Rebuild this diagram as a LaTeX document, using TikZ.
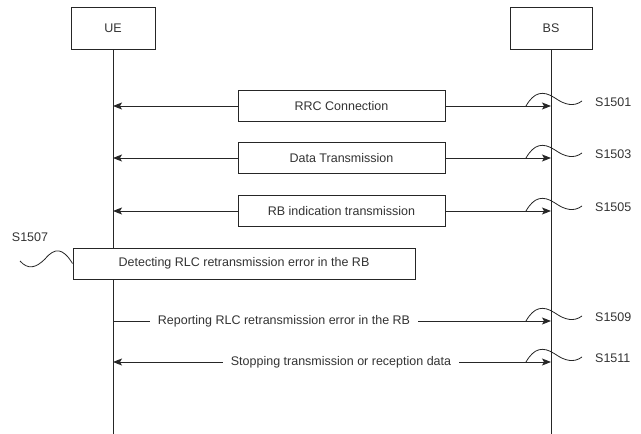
\documentclass[tikz,border=0pt]{standalone}
\usepackage{fontspec}
\setmainfont{Liberation Sans}
\usetikzlibrary{arrows.meta}

\begin{document}
\begin{tikzpicture}[x=1pt,y=-1pt,
  ln/.style={draw=black!85, line width=0.9pt},
  txt/.style={text=black!80, font=\fontsize{12.5}{14}\selectfont},
  actor/.style={ln, txt, fill=white, minimum width=84pt, minimum height=42pt, inner sep=0pt},
  msgbox/.style={ln, txt, fill=white, minimum width=207pt, minimum height=31pt, inner sep=0pt},
  lbl/.style={txt, fill=white, inner xsep=8pt, inner ysep=1pt},
  tip/.style={-{Stealth[length=9pt,width=7pt,inset=2pt]}},
  tips/.style={{Stealth[length=9pt,width=7pt,inset=2pt]}-{Stealth[length=9pt,width=7pt,inset=2pt]}},
  wave/.style={draw=black!85, line width=0.8pt},
  step label/.style={txt, anchor=west, inner sep=0pt}
]
\useasboundingbox (0,0) rectangle (641,434);

% actors and lifelines
\node[actor] (ue) at (113,28) {UE};
\node[actor, minimum width=82pt] (bs) at (551,28) {BS};
\coordinate (ueEnd) at (113,434);
\coordinate (bsEnd) at (551,434);
\draw[ln] (ue.south) -- (ueEnd);
\draw[ln] (bs.south) -- (bsEnd);

% anchor points on the lifelines
\foreach \n/\y in {a/106, b/158, c/211, d/321, e/362} {
  \coordinate (ue\n) at (113,\y);
  \coordinate (bs\n) at (551,\y);
}

% boxed messages
\node[msgbox] (m1) at (341.5,106) {RRC Connection};
\node[msgbox] (m2) at (341.5,158) {Data Transmission};
\node[msgbox] (m3) at (341.5,211) {RB indication transmission};
\foreach \m/\n in {m1/a, m2/b, m3/c} {
  \draw[ln, tip] (\m.west) -- (ue\n);
  \draw[ln, tip] (\m.east) -- (bs\n);
}

% local detection at the UE
\node[msgbox, minimum width=342pt] (det) at (244,263.5) {Detecting RLC retransmission error in the RB};

% labelled arrows
\draw[ln, tip] (ued) -- (bsd);
\node[lbl] (rep) at (284,321) {Reporting RLC retransmission error in the RB};
\draw[ln, tips] (uee) -- (bse);
\node[lbl] (stp) at (341,362) {Stopping transmission or reception data};

% step labels with wavy leaders
\foreach \n/\y/\s in {a/106/S1501, b/158/S1503, c/211/S1505, d/321/S1509, e/362/S1511} {
  \node[step label] (s\n) at (595,\y-4) {\s};
  \coordinate (w\n) at (526,\y);
  \draw[wave] (w\n) .. controls (534,\y-14) and (543,\y-16) .. (555,\y-8)
                    .. controls (565,\y-1) and (574,\y+1) .. (582,\y-5);
}
\node[txt, inner sep=0pt] (s7) at (30,237) {S1507};
\coordinate (w7) at (20,261);
\draw[wave] (w7) .. controls (28,270) and (36,268) .. (45,259)
                 .. controls (55,247) and (63,248) .. (det.west);
\end{tikzpicture}
\end{document}
